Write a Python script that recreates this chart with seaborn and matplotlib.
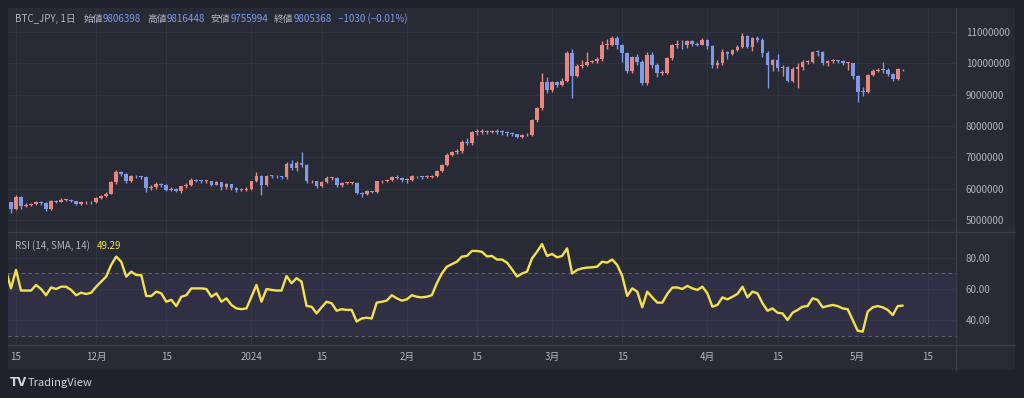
import numpy as np
import pandas as pd
import matplotlib
matplotlib.use("Agg")
import matplotlib.pyplot as plt
import matplotlib.dates as mdates
from matplotlib.lines import Line2D
from matplotlib.patches import Rectangle
from matplotlib.ticker import FuncFormatter
import seaborn as sns

# BTC_JPY daily candles, prices in 万円 (x10,000 JPY)
start_date = "2023-11-13"
first_open = 550

close_man = [
    # Nov 13-30
    556, 535, 574, 544, 549, 551, 557, 553, 535, 560, 559, 564, 565, 560, 552, 556, 557, 556,
    # Dec
    569, 577, 584, 620, 652, 647, 624, 641, 639, 637, 602, 606, 615, 613, 597, 599, 592, 607,
    613, 627, 625, 624, 624, 613, 620, 605, 614, 602, 595, 597, 599,
    # Jan
    623, 641, 611, 641, 640, 639, 637, 680, 666, 682, 677, 623, 623, 607, 621, 634, 634, 611,
    618, 618, 618, 586, 583, 591, 590, 623, 624, 627, 637, 634, 627,
    # Feb
    629, 639, 639, 637, 637, 639, 655, 676, 708, 716, 720, 750, 746, 781, 781, 783, 780, 782,
    781, 780, 779, 773, 764, 770, 772, 818, 857, 940, 915,
    # Mar
    939, 932, 945, 1032, 958, 990, 995, 1005, 1006, 1013, 1059, 1059, 1080, 1057, 1032, 974,
    1019, 1005, 937, 1028, 995, 968, 970, 1016, 1059, 1059, 1057, 1071, 1063, 1060, 1076,
    # Apr
    1055, 995, 1000, 1037, 1030, 1043, 1053, 1087, 1053, 1080, 1076, 1032, 995, 1011, 985, 987,
    945, 983, 987, 1005, 1005, 1037, 1035, 1000, 1008, 1009, 1008, 1000, 1000, 960,
    # May 1-10
    910, 908, 963, 977, 979, 978, 966, 949, 980.6398, 980.5368,
]

high_man = [
    560, 559, 579, 576, 553, 555, 561, 560, 556, 563, 563, 571, 568, 567, 562, 560, 562, 560,
    572, 580, 588, 626, 658, 656, 650, 645, 644, 642, 639, 612, 620, 619, 616, 604, 602, 610,
    618, 634, 631, 629, 628, 626, 624, 622, 618, 616, 606, 601, 604,
    626, 652, 645, 645, 645, 643, 642, 686, 690, 688, 716, 680, 628, 626, 625, 640, 638, 637,
    622, 621, 621, 620, 590, 595, 594, 626, 628, 632, 641, 644, 637,
    633, 643, 642, 641, 643, 643, 658, 680, 714, 721, 726, 755, 762, 785, 792, 790, 786, 787,
    790, 788, 784, 782, 776, 774, 777, 822, 862, 968, 955,
    944, 945, 952, 1040, 1045, 998, 1010, 1035, 1012, 1020, 1070, 1078, 1088, 1087, 1062, 1035,
    1023, 1030, 1010, 1035, 1035, 1000, 980, 1020, 1062, 1075, 1075, 1076, 1075, 1068, 1080,
    1078, 1057, 1010, 1045, 1040, 1047, 1058, 1097, 1090, 1085, 1088, 1082, 1040, 1015, 1030, 995,
    992, 988, 1000, 1010, 1012, 1040, 1042, 1038, 1012, 1015, 1012, 1010, 1005, 1002,
    962, 925, 966, 982, 985, 1003, 985, 970, 984, 981.6448,
]

low_man = [
    547, 523, 532, 536, 540, 546, 548, 548, 528, 531, 554, 556, 560, 556, 547, 549, 551, 552,
    554, 566, 574, 582, 616, 640, 618, 620, 634, 632, 588, 596, 598, 606, 594, 594, 588, 585,
    603, 610, 620, 619, 619, 610, 611, 597, 600, 596, 589, 591, 594,
    597, 620, 580, 608, 633, 634, 630, 632, 660, 655, 670, 618, 617, 603, 604, 618, 627, 606,
    604, 614, 614, 583, 572, 580, 585, 587, 619, 620, 624, 630, 622,
    619, 626, 634, 632, 633, 634, 636, 652, 672, 704, 712, 715, 738, 740, 772, 776, 773, 777,
    775, 770, 769, 769, 761, 762, 767, 767, 812, 852, 905,
    910, 926, 928, 940, 889, 955, 985, 990, 1000, 1002, 1008, 1045, 1055, 1045, 1005, 968,
    968, 995, 932, 930, 985, 955, 962, 965, 1010, 1050, 1045, 1050, 1055, 1055, 1058,
    1045, 985, 985, 995, 1015, 1027, 1040, 1050, 1048, 1040, 1068, 1020, 920, 975, 975, 960,
    940, 942, 920, 980, 998, 1000, 1025, 995, 990, 1000, 1000, 996, 980, 950,
    878, 895, 905, 960, 972, 970, 960, 945, 946, 975.5994,
]

# RSI (14, SMA, 14)
rsi_vals = [
    72, 60.4, 72.3, 59, 59, 59, 62.6, 60, 56, 61, 60, 61.5, 61.5, 59.4, 56, 57.6, 56.8, 57.6,
    61.5, 64.7, 68, 75.5, 80.9, 77.6, 68, 71.2, 69, 69, 55.5, 55.5, 58.3, 57.2, 51.8, 53, 49, 55,
    56, 60.4, 60.4, 60.4, 60, 55, 57.2, 51.8, 54, 49.7, 47.5, 47, 47.5,
    55, 62.6, 51.8, 60, 59.4, 59, 59, 68.4, 63.7, 67, 64.7, 49, 48.6, 44.3, 48.2, 51.8, 50.8, 46,
    47, 46.5, 46.5, 39, 41, 41.5, 41, 51.2, 51.8, 52.5, 56, 54, 52.5,
    53.3, 56, 55, 54.6, 55, 56, 63.7, 70, 74.4, 76, 77.6, 80.9, 81.3, 84.5, 84.5, 84, 81, 81.3,
    79, 79, 77, 72.7, 68, 70, 71.2, 79.8, 84, 89, 81.3,
    82.6, 80.4, 81.3, 86.2, 70, 72.3, 73.3, 73.8, 74, 74.4, 77.6, 77, 79, 75.5, 68.4, 55.5,
    60.4, 58.3, 48.2, 58.3, 54.6, 51.2, 51.2, 56.8, 60.9, 61, 60, 62, 60.4, 59.4, 61.5,
    57.2, 48.6, 49.7, 54.6, 53.3, 55, 56.8, 61.5, 54.6, 58.3, 57.2, 50.8, 46, 47.5, 44.7, 44.3,
    40, 44.7, 46.5, 48.6, 49, 54, 53, 48.2, 49, 49.7, 49, 47.5, 47, 40,
    33.1, 32.5, 45.4, 48.2, 49, 48.2, 46.5, 43.2, 49, 49.29,
]

tick_dates = ["2023-11-15", "2023-12-01", "2023-12-15", "2024-01-01", "2024-01-15",
              "2024-02-01", "2024-02-15", "2024-03-01", "2024-03-15", "2024-04-01",
              "2024-04-15", "2024-05-01", "2024-05-15"]
tick_labels = ["15", "12月", "15", "2024", "15", "2月", "15", "3月", "15", "4月", "15", "5月", "15"]
price_ticks = [5000000, 6000000, 7000000, 8000000, 9000000, 10000000, 11000000]
rsi_ticks = [40, 60, 80]

# colours
BG = "#1f222b"
PANE = "#282b36"
GRID = "#31353f"
SEP = "#3a3e4a"
TXT = "#b2b5be"
UP = "#e8877e"
DOWN = "#7d9be8"
YELLOW = "#f4e24a"

sns.set_theme(style="darkgrid", rc={
    "figure.facecolor": BG,
    "axes.facecolor": PANE,
    "grid.color": GRID,
    "grid.linewidth": 0.7,
    "xtick.color": TXT,
    "ytick.color": TXT,
    "text.color": TXT,
    "axes.edgecolor": PANE,
})
plt.rcParams["font.family"] = ["Noto Sans CJK JP", "DejaVu Sans"]

df = pd.DataFrame({
    "date": pd.date_range(start_date, periods=len(close_man), freq="D"),
    "close": np.array(close_man) * 1e4,
    "high": np.array(high_man) * 1e4,
    "low": np.array(low_man) * 1e4,
    "rsi": rsi_vals,
})
df["open"] = df["close"].shift(1).fillna(first_open * 1e4)
df["x"] = mdates.date2num(df["date"])
up = df["close"] >= df["open"]
colors = np.where(up, UP, DOWN)

W, H = 1024, 398
fig = plt.figure(figsize=(W / 100, H / 100), dpi=100)

# panel background
fig.add_artist(Rectangle((8 / W, 1 - 370 / H), 1007 / W, 362 / H, transform=fig.transFigure,
                         facecolor=PANE, edgecolor="none", zorder=0))

ax = fig.add_axes([8 / W, 1 - 232 / H, 948 / W, 224 / H])
ax2 = fig.add_axes([8 / W, 1 - 345 / H, 948 / W, 112 / H], sharex=ax)

# candles
ax.vlines(df["x"], df["low"], df["high"], colors=colors, linewidth=1, zorder=2)
body = (df["close"] - df["open"]).abs().clip(lower=2.8e4)
bottom = np.minimum(df["open"], df["close"])
ax.bar(df["x"], body, bottom=bottom, width=0.75, color=colors, linewidth=0, zorder=3)

ax.set_ylim(4617000, 11766000)
ax.yaxis.tick_right()
ax.set_yticks(price_ticks)
ax.yaxis.set_major_formatter(FuncFormatter(lambda v, p: f"{int(v)}"))
ax.tick_params(axis="y", length=0, pad=7, labelsize=7, labelcolor=TXT)
ax.tick_params(axis="x", length=0, labelbottom=False)

# RSI pane
ax2.axhspan(30, 70, color="#7e57c2", alpha=0.1, linewidth=0, zorder=1)
for lvl in (70, 30):
    ax2.axhline(lvl, color="#787b86", linewidth=0.8, linestyle=(0, (3, 3)), alpha=0.7, zorder=1)
sns.lineplot(data=df, x="x", y="rsi", ax=ax2, color=YELLOW, linewidth=1.7, zorder=3)
ax2.set_ylim(23.9, 96.1)
ax2.yaxis.tick_right()
ax2.set_yticks(rsi_ticks)
ax2.yaxis.set_major_formatter(FuncFormatter(lambda v, p: f"{v:.2f}"))
ax2.tick_params(axis="y", length=0, pad=7, labelsize=7, labelcolor=TXT)
ax2.set_xlabel("")
ax2.set_ylabel("")

tick_x = mdates.date2num(pd.to_datetime(tick_dates))
ax2.set_xticks(tick_x)
ax2.set_xticklabels(tick_labels)
ax2.tick_params(axis="x", length=0, pad=5, labelsize=7, labelcolor=TXT)
x0 = mdates.date2num(pd.Timestamp("2023-11-15"))
ax2.set_xlim(x0 - 8 / 5.01, x0 + 940 / 5.01)

for a in (ax, ax2):
    a.grid(True, color=GRID, linewidth=0.7)
    for s in a.spines.values():
        s.set_visible(False)

# separators
for yy in (232.5, 345):
    fig.add_artist(Line2D([8 / W, 1015 / W], [1 - yy / H, 1 - yy / H], transform=fig.transFigure,
                          color=SEP, linewidth=1))
fig.add_artist(Line2D([956 / W, 956 / W], [1 - 8 / H, 1 - 370 / H], transform=fig.transFigure,
                      color=SEP, linewidth=1))


def chain(owner, parts, x, y, size=7):
    # legend-like header: pieces of text placed one after another
    prev = None
    for text, color, gap in parts:
        if prev is None:
            prev = owner.text(x, y, text, transform=fig.transFigure, color=color, fontsize=size,
                              va="bottom", ha="left", zorder=5)
        else:
            prev = owner.annotate(text, xy=(1, 0), xycoords=prev, xytext=(gap, 0),
                                  textcoords="offset points", color=color, fontsize=size,
                                  va="bottom", ha="left", zorder=5)


last = df.iloc[-1]
chg = last["close"] - last["open"]
VAL = "#7c9cf0"
chain(ax, [
    ("BTC_JPY, 1日", TXT, 0),
    ("始値", TXT, 5.5), (f"{last['open']:.0f}", VAL, 0),
    ("高値", TXT, 4.3), (f"{last['high']:.0f}", VAL, 0),
    ("安値", TXT, 4.3), (f"{last['low']:.0f}", VAL, 0),
    ("終値", TXT, 4.3), (f"{last['close']:.0f}", VAL, 0),
    (f"\u2212{abs(chg):.0f} (\u2212{abs(chg) / last['open'] * 100:.2f}%)", VAL, 4.3),
], 15 / W, 1 - 24 / H)

chain(ax2, [
    ("RSI (14, SMA, 14)", TXT, 0),
    (f"{rsi_vals[-1]:.2f}", YELLOW, 5),
], 15 / W, 1 - 251 / H)

# logo
fig.text(10 / W, 1 - 383 / H, "TV", color="#d1d4dc", fontsize=8.5, fontweight="bold",
         va="center", ha="left", family="DejaVu Sans")
fig.text(28 / W, 1 - 383 / H, "TradingView", color="#d1d4dc", fontsize=8,
         va="center", ha="left")

fig.savefig("out.png", dpi=100, facecolor=BG)
